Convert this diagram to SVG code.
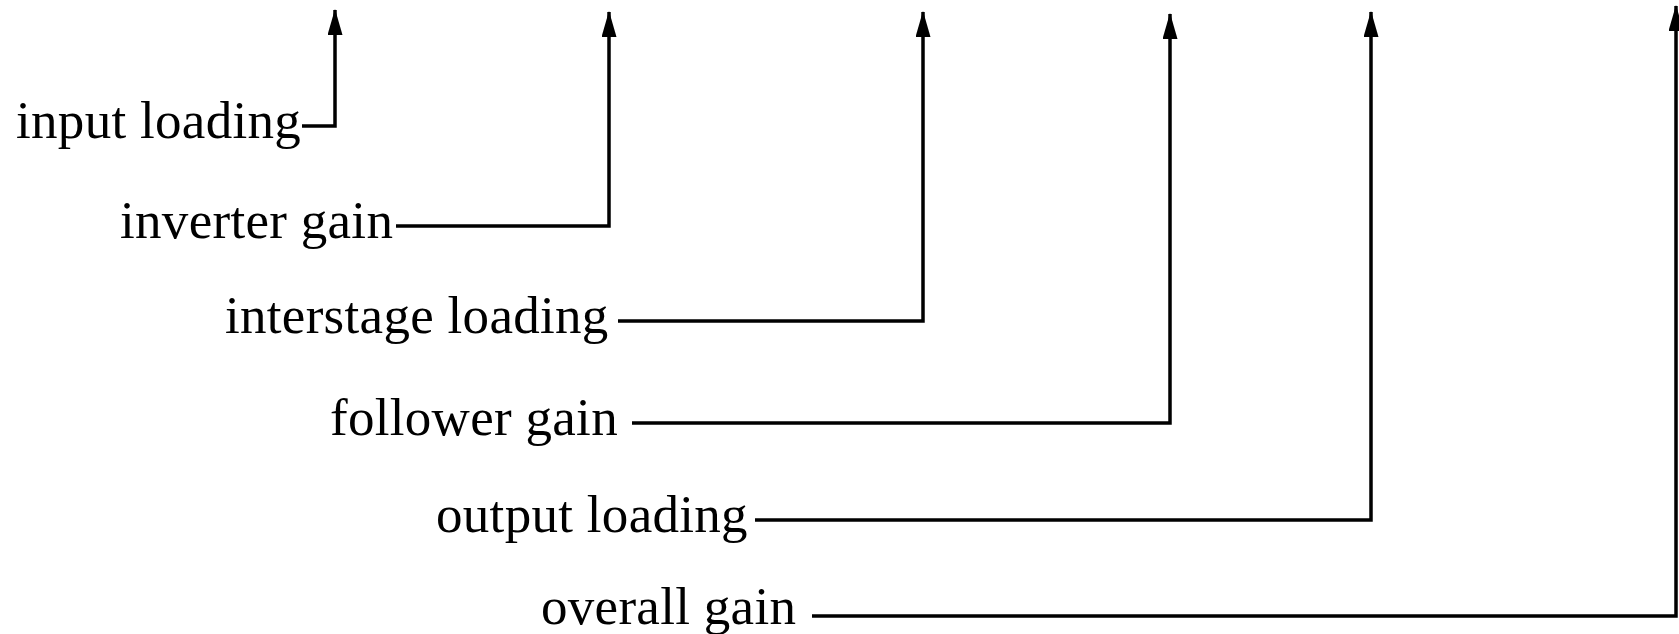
<svg xmlns="http://www.w3.org/2000/svg" width="1679" height="634" viewBox="0 0 1679 634">
  <style>
    .label { font-family: "Liberation Serif", "Times New Roman", serif; font-size: 53px; letter-spacing: 0.3px; fill: #000; }
    .wire { fill: none; stroke: #000; stroke-width: 3.5; stroke-linejoin: miter; }
  </style>
  <defs>
    <!-- filled arrowhead, drawn along +x so orient="auto" points it up the vertical leg -->
    <marker id="arrow" markerUnits="userSpaceOnUse" markerWidth="26" markerHeight="15" refX="25" refY="7.5" orient="auto" viewBox="0 0 26 15">
      <path d="M0 0 L26 7.5 L0 15 Z" fill="#000"/>
    </marker>
  </defs>
  <rect width="1679" height="634" fill="#fff"/>

  <g id="input-loading"><text class="label" x="16" y="138">input loading</text></g>
  <g id="inverter-gain"><text class="label" x="120" y="238">inverter gain</text></g>
  <g id="interstage-loading"><text class="label" x="225" y="333">interstage loading</text></g>
  <g id="follower-gain"><text class="label" x="330" y="435">follower gain</text></g>
  <g id="output-loading"><text class="label" x="436" y="532">output loading</text></g>
  <g id="overall-gain"><text class="label" x="541" y="624">overall gain</text></g>

  <g id="connectors">
    <path class="wire" d="M302 126 H335 V10" marker-end="url(#arrow)"/>
    <path class="wire" d="M396 226 H609 V12" marker-end="url(#arrow)"/>
    <path class="wire" d="M618 321 H923 V12" marker-end="url(#arrow)"/>
    <path class="wire" d="M632 423 H1170 V14" marker-end="url(#arrow)"/>
    <path class="wire" d="M755 520 H1371 V12" marker-end="url(#arrow)"/>
    <path class="wire" d="M812 616 H1676 V6" marker-end="url(#arrow)"/>
  </g>
</svg>
